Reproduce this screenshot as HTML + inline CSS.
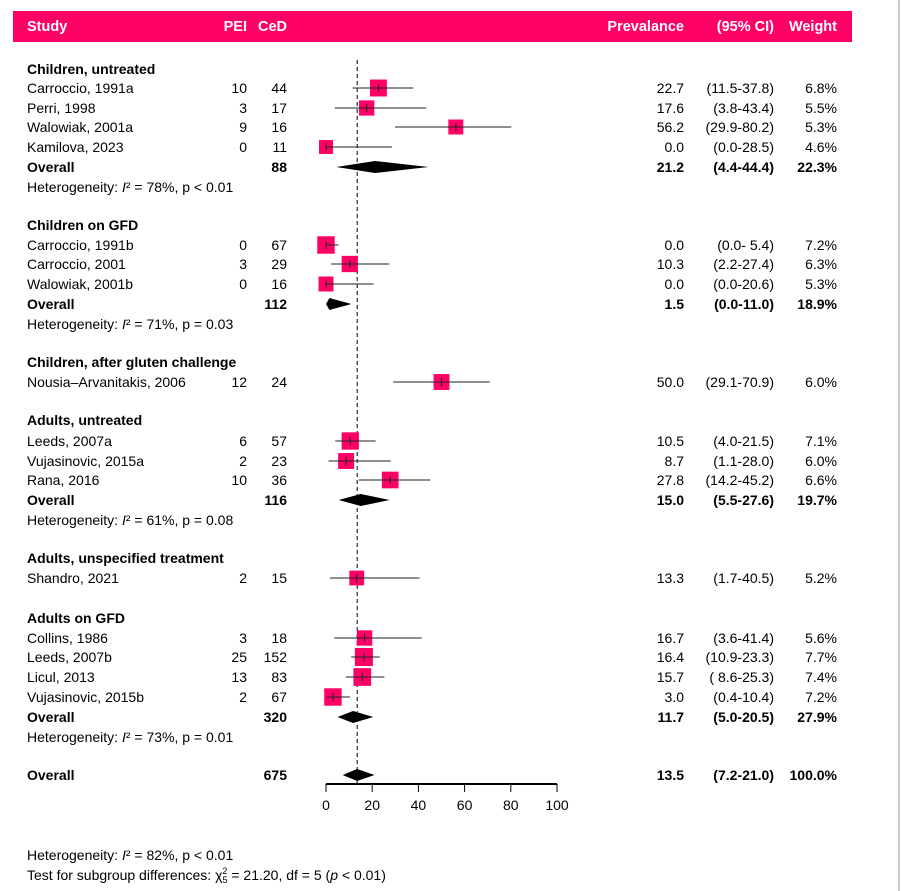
<!DOCTYPE html>
<html><head><meta charset="utf-8">
<style>
body{margin:0;background:#fff;width:903px;height:891px;overflow:hidden}
svg{display:block;font-family:"Liberation Sans",sans-serif}
</style></head>
<body>
<svg id="c" width="903" height="891" xmlns="http://www.w3.org/2000/svg">
<line x1="899" y1="0" x2="899" y2="891" stroke="#ccc" stroke-width="2"/>
<rect x="13" y="11" width="839" height="31" fill="#ff0066"/>
<g fill="#fff" font-weight="bold" font-size="14.5">
<text x="27" y="31">Study</text>
<text x="247" y="31" text-anchor="end">PEI</text>
<text x="287" y="31" text-anchor="end">CeD</text>
<text x="684" y="31" text-anchor="end">Prevalance</text>
<text x="774" y="31" text-anchor="end">(95% CI)</text>
<text x="837" y="31" text-anchor="end">Weight</text>
</g>
<g id="g"></g>
<text x="27" y="860" font-size="14">Heterogeneity: <tspan font-style="italic">I</tspan>² = 82%, p &lt; 0.01</text>
<text x="27" y="880" font-size="14">Test for subgroup differences: χ<tspan font-size="9" dy="-6">2</tspan><tspan font-size="9" dx="-5" dy="9">5</tspan><tspan dy="-3"> = 21.20, df = 5 (</tspan><tspan font-style="italic">p</tspan> &lt; 0.01)</text>
</svg>
<script>
// type: h=group header, s=study, o=overall, t=heterogeneity text
const rowTypes = ["h","s","s","s","s","o","t","h","s","s","s","o","t","h","s","h","s","s","s","o","t","h","s","h","s","s","s","s","o","t","O"];
const rowY = [69,88,108,127,147,167,187,225,245,264,284,304,324,362,382,420,441,461,480,500,520,558,578,618,638,657,677,697,717,737,775];
const labels = ["Children, untreated","Carroccio, 1991a","Perri, 1998","Walowiak, 2001a","Kamilova, 2023","Overall","Heterogeneity: I² = 78%, p < 0.01",
"Children on GFD","Carroccio, 1991b","Carroccio, 2001","Walowiak, 2001b","Overall","Heterogeneity: I² = 71%, p = 0.03",
"Children, after gluten challenge","Nousia–Arvanitakis, 2006",
"Adults, untreated","Leeds, 2007a","Vujasinovic, 2015a","Rana, 2016","Overall","Heterogeneity: I² = 61%, p = 0.08",
"Adults, unspecified treatment","Shandro, 2021",
"Adults on GFD","Collins, 1986","Leeds, 2007b","Licul, 2013","Vujasinovic, 2015b","Overall","Heterogeneity:  I² = 73%, p = 0.01","Overall"];
const pei = ["",10,3,9,0,"","","",0,3,0,"","","",12,"",6,2,10,"","","",2,"",3,25,13,2,"","",""];
const ced = ["",44,17,16,11,88,"","",67,29,16,112,"","",24,"",57,23,36,116,"","",15,"",18,152,83,67,320,"",675];
const est = [null,22.7,17.6,56.2,0.0,21.2,null,null,0.0,10.3,0.0,1.5,null,null,50.0,null,10.5,8.7,27.8,15.0,null,null,13.3,null,16.7,16.4,15.7,3.0,11.7,null,13.5];
const lo = [null,11.5,3.8,29.9,0.0,4.4,null,null,0.0,2.2,0.0,0.0,null,null,29.1,null,4.0,1.1,14.2,5.5,null,null,1.7,null,3.6,10.9,8.6,0.4,5.0,null,7.2];
const hi = [null,37.8,43.4,80.2,28.5,44.4,null,null,5.4,27.4,20.6,11.0,null,null,70.9,null,21.5,28.0,45.2,27.6,null,null,40.5,null,41.4,23.3,25.3,10.4,20.5,null,21.0];
const ciText = ["","(11.5-37.8)","(3.8-43.4)","(29.9-80.2)","(0.0-28.5)","(4.4-44.4)","","","(0.0- 5.4)","(2.2-27.4)","(0.0-20.6)","(0.0-11.0)","","","(29.1-70.9)","","(4.0-21.5)","(1.1-28.0)","(14.2-45.2)","(5.5-27.6)","","","(1.7-40.5)","","(3.6-41.4)","(10.9-23.3)","( 8.6-25.3)","(0.4-10.4)","(5.0-20.5)","","(7.2-21.0)"];
const weight = [null,6.8,5.5,5.3,4.6,22.3,null,null,7.2,6.3,5.3,18.9,null,null,6.0,null,7.1,6.0,6.6,19.7,null,null,5.2,null,5.6,7.7,7.4,7.2,27.9,null,100.0];
const ticks = [0,20,40,60,80,100];
const overallEst = 13.5;

const NS="http://www.w3.org/2000/svg";
const g=document.getElementById('g');
const FS=14;
const xs=v=>326+v*2.31;
function mk(tag,at,txt){const e=document.createElementNS(NS,tag);for(const k in at)e.setAttribute(k,at[k]);if(txt!=null)e.textContent=txt;g.appendChild(e);return e;}
let e=mk('line',{x1:xs(overallEst),x2:xs(overallEst),y1:60,y2:784,stroke:'#000','stroke-dasharray':'4,3','stroke-width':1});


rowTypes.forEach((t,i)=>{
  const y=rowY[i];const bold=(t==='h'||t==='o'||t==='O');
  const fw=bold?'bold':'normal';
  let lab;
  if(t==='t'){
    lab=mk('text',{x:27,y:y+5,'font-size':FS,'xml:space':'preserve'});
    const parts=labels[i].split('I²');
    lab.appendChild(document.createTextNode(parts[0]));
    const it=document.createElementNS(NS,'tspan');it.setAttribute('font-style','italic');it.textContent='I';lab.appendChild(it);
    lab.appendChild(document.createTextNode('²'+parts[1]));
  } else lab=mk('text',{x:27,y:y+5,'font-size':FS,'font-weight':fw},labels[i]);
  
  
  if(pei[i]!==""){e=mk('text',{x:247,y:y+5,'font-size':FS,'text-anchor':'end'},pei[i]);
    
    }
  if(ced[i]!==""){e=mk('text',{x:287,y:y+5,'font-size':FS,'text-anchor':'end','font-weight':fw},ced[i]);
    
    }
  if(est[i]!==null){
    e=mk('text',{x:684,y:y+5,'font-size':FS,'text-anchor':'end','font-weight':fw},est[i].toFixed(1));
    
    
    e=mk('text',{x:774,y:y+5,'font-size':FS,'text-anchor':'end','font-weight':fw,'xml:space':'preserve'},ciText[i]);
    
    
    e=mk('text',{x:837,y:y+5,'font-size':FS,'text-anchor':'end','font-weight':fw},weight[i].toFixed(1)+'%');
    
    
    if(t==='s'){
      const s=6.5*Math.sqrt(weight[i]);
      e=mk('rect',{x:xs(est[i])-s/2,y:y-s/2,width:s,height:s,fill:'#ff0066'});
      
      
      e=mk('line',{x1:xs(lo[i]),x2:xs(hi[i]),y1:y,y2:y,stroke:'#222','stroke-width':1});
      
      
      e=mk('line',{x1:xs(est[i]),x2:xs(est[i]),y1:y-4,y2:y+4,stroke:'#222','stroke-width':1});
      
      
    } else {
      const h=6;
      e=mk('polygon',{points:`${xs(lo[i])},${y} ${xs(est[i])},${y-h} ${xs(hi[i])},${y} ${xs(est[i])},${y+h}`,fill:'#000'});
      
      
    }
  }
});
e=mk('line',{x1:xs(0),x2:xs(100),y1:784,y2:784,stroke:'#000','stroke-width':2});


ticks.forEach(v=>{
  e=mk('line',{x1:xs(v),x2:xs(v),y1:784,y2:792,stroke:'#000','stroke-width':1});
  
  
  e=mk('text',{x:xs(v),y:810,'font-size':FS,'text-anchor':'middle'},v);
  
  
});
</script>
</body></html>
